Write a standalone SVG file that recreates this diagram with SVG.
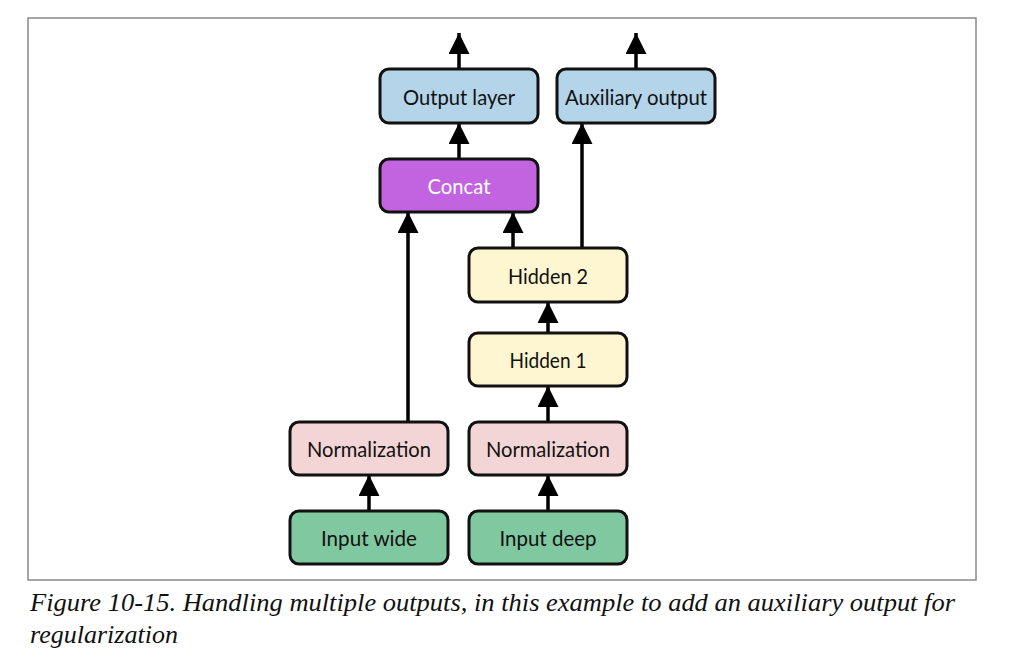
<svg xmlns="http://www.w3.org/2000/svg" width="1026" height="664" viewBox="0 0 1026 664">
<style>
.box{stroke:#111;stroke-width:3}
.lbl{font-family:Lato,"Open Sans",sans-serif;font-size:22px;fill:#111;text-anchor:middle;dominant-baseline:central}
.out{fill:#b4d4ea}.cat{fill:#c263df}.hid{fill:#fdf6d0}.nrm{fill:#f3d5d5}.inp{fill:#80c8a0}
.edge{stroke:#000;stroke-width:3.5;fill:none;marker-end:url(#ah)}
.cap{font-family:"Liberation Serif","Times New Roman",serif;font-style:italic;font-size:26px;fill:#111}
</style>
<defs>
<marker id="ah" viewBox="0 0 10 10" refX="10" refY="5" markerUnits="userSpaceOnUse" markerWidth="21" markerHeight="21" orient="auto">
<path d="M0,0 L10,5 L0,10 Z" fill="#000"/>
</marker>
</defs>
<rect x="28" y="18" width="948" height="562" fill="#fff" stroke="#888" stroke-width="1.5"/>
<g id="connectors">
<line class="edge" x1="459" y1="69" x2="459" y2="33"/>
<line class="edge" x1="636" y1="69" x2="636" y2="33"/>
<line class="edge" x1="459" y1="159" x2="459" y2="123"/>
<line class="edge" x1="582" y1="248" x2="582" y2="123"/>
<line class="edge" x1="408" y1="422" x2="408" y2="212"/>
<line class="edge" x1="513" y1="248" x2="513" y2="212"/>
<line class="edge" x1="548" y1="333" x2="548" y2="302"/>
<line class="edge" x1="548" y1="422" x2="548" y2="386"/>
<line class="edge" x1="369" y1="511" x2="369" y2="475"/>
<line class="edge" x1="548" y1="511" x2="548" y2="475"/>
</g>
<g id="output_layer"><rect class="box out" x="380" y="69" width="158" height="54" rx="9"/><text class="lbl" x="459" y="96" textLength="112" lengthAdjust="spacingAndGlyphs">Output layer</text></g>
<g id="auxiliary_output"><rect class="box out" x="557" y="69" width="158" height="54" rx="9"/><text class="lbl" x="636" y="96" textLength="142" lengthAdjust="spacingAndGlyphs">Auxiliary output</text></g>
<g id="concat"><rect class="box cat" x="380" y="159" width="158" height="53" rx="9"/><text class="lbl" x="459" y="185.5" style="fill:#fff" textLength="63" lengthAdjust="spacingAndGlyphs">Concat</text></g>
<g id="hidden2"><rect class="box hid" x="469" y="248" width="158" height="54" rx="9"/><text class="lbl" x="548" y="275" textLength="80" lengthAdjust="spacingAndGlyphs">Hidden 2</text></g>
<g id="hidden1"><rect class="box hid" x="469" y="333" width="158" height="53" rx="9"/><text class="lbl" x="548" y="359.5" textLength="77" lengthAdjust="spacingAndGlyphs">Hidden 1</text></g>
<g id="norm_wide"><rect class="box nrm" x="290" y="422" width="158" height="53" rx="9"/><text class="lbl" x="369" y="448.5" textLength="124" lengthAdjust="spacingAndGlyphs">Normalization</text></g>
<g id="norm_deep"><rect class="box nrm" x="469" y="422" width="158" height="53" rx="9"/><text class="lbl" x="548" y="448.5" textLength="124" lengthAdjust="spacingAndGlyphs">Normalization</text></g>
<g id="input_wide"><rect class="box inp" x="290" y="511" width="158" height="53" rx="9"/><text class="lbl" x="369" y="537.5" textLength="96" lengthAdjust="spacingAndGlyphs">Input wide</text></g>
<g id="input_deep"><rect class="box inp" x="469" y="511" width="158" height="53" rx="9"/><text class="lbl" x="548" y="537.5" textLength="97" lengthAdjust="spacingAndGlyphs">Input deep</text></g>
<text class="cap" x="30" y="611" textLength="925" lengthAdjust="spacingAndGlyphs">Figure 10-15. Handling multiple outputs, in this example to add an auxiliary output for</text>
<text class="cap" x="30" y="643" textLength="148" lengthAdjust="spacingAndGlyphs">regularization</text>
</svg>
